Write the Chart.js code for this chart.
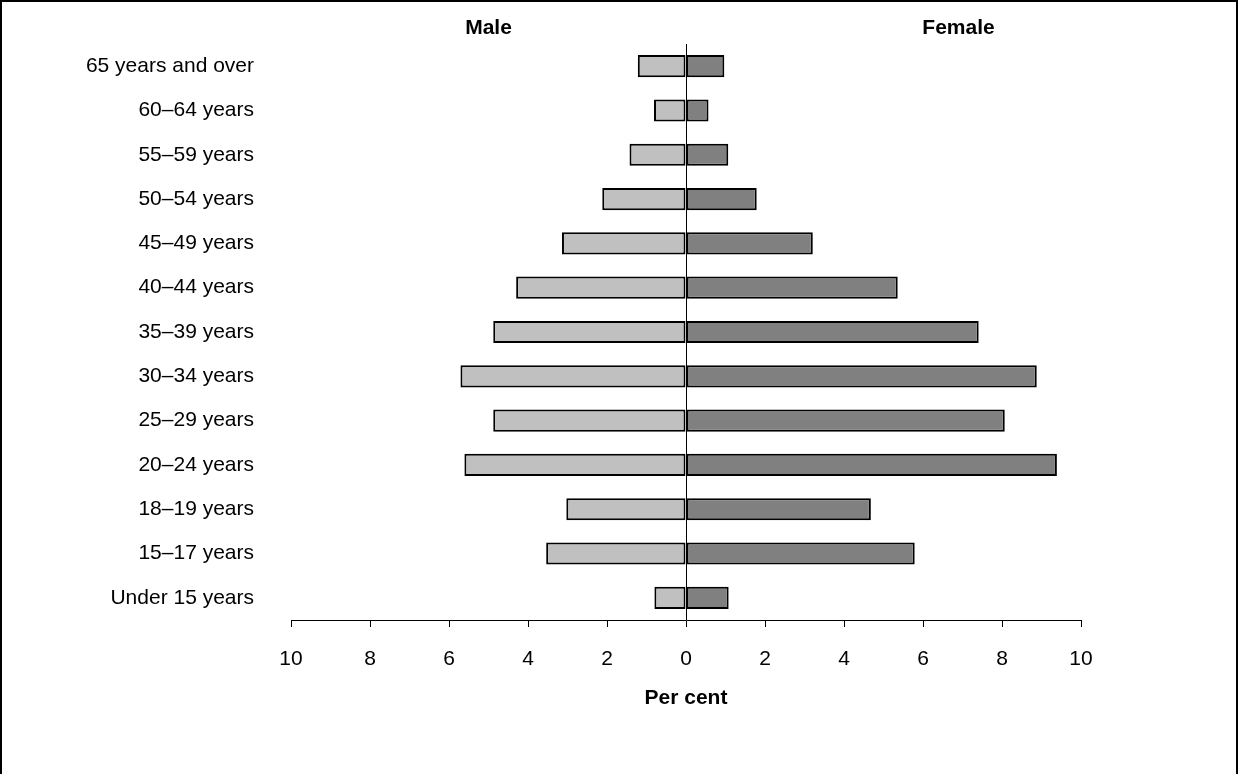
<!DOCTYPE html>
<html>
<head>
<meta charset="utf-8">
<script src="https://cdn.jsdelivr.net/npm/chart.js@4.4.1/dist/chart.umd.min.js"></script>
<style>
  html, body { margin: 0; padding: 0; background: #fff; }
  #wrap { width: 1238px; height: 774px; position: relative; }
</style>
</head>
<body>
<div id="wrap"><canvas id="c" width="1238" height="774"></canvas></div>
<script>
const categories = ["65 years and over", "60–64 years", "55–59 years", "50–54 years", "45–49 years", "40–44 years", "35–39 years", "30–34 years", "25–29 years", "20–24 years", "18–19 years", "15–17 years", "Under 15 years"];
const maleValues = [1.22, 0.81, 1.43, 2.12, 3.14, 4.30, 4.88, 5.71, 4.88, 5.61, 3.03, 3.54, 0.80];
const femaleValues = [0.97, 0.57, 1.07, 1.79, 3.21, 5.36, 7.41, 8.88, 8.07, 9.39, 4.68, 5.79, 1.08];
const tickValues = [-10, -8, -6, -4, -2, 0, 2, 4, 6, 8, 10];
const seriesNames = ["Male", "Female"];
const axisTitle = "Per cent";

const FONT = "'Liberation Sans', Arial, Helvetica, sans-serif";

const framePlugin = {
  id: 'frame',
  afterDraw(chart) {
    const ctx = chart.ctx;
    const xs = chart.scales.x;
    ctx.save();
    ctx.fillStyle = '#000';
    ctx.fillRect(0, 0, 2, 774);
    ctx.fillRect(1236, 0, 2, 774);
    ctx.fillRect(0, 0, 1238, 2);
    ctx.font = "bold 21px " + FONT;
    ctx.textAlign = 'center';
    ctx.textBaseline = 'middle';
    ctx.fillText(seriesNames[0], xs.getPixelForValue(-5), 28);
    ctx.fillText(seriesNames[1], xs.getPixelForValue(6.9), 28);
    ctx.restore();
  }
};

new Chart(document.getElementById('c'), {
  type: 'bar',
  data: {
    labels: categories,
    datasets: [
      { label: seriesNames[0], data: maleValues.map(v => -v), backgroundColor: '#c0c0c0', borderColor: '#000', borderWidth: 2, borderSkipped: false, categoryPercentage: 1, barPercentage: 0.5 },
      { label: seriesNames[1], data: femaleValues, backgroundColor: '#808080', borderColor: '#000', borderWidth: 2, borderSkipped: false, categoryPercentage: 1, barPercentage: 0.5 }
    ]
  },
  options: {
    indexAxis: 'y',
    responsive: false,
    animation: false,
    devicePixelRatio: 1,
    layout: { padding: { top: 44, right: 157, bottom: 63, left: 0 } },
    plugins: { legend: { display: false }, tooltip: { enabled: false } },
    scales: {
      x: {
        stacked: true,
        min: -10, max: 10,
        afterBuildTicks(scale) { scale.ticks = tickValues.map(v => ({ value: v })); },
        afterFit(scale) { scale.height = 91; },
        ticks: {
          color: '#000',
          font: { family: FONT, size: 21 },
          padding: 20,
          maxRotation: 0,
          callback: v => String(Math.abs(v))
        },
        grid: {
          color: ctx => (ctx.tick && ctx.tick.value === 0) ? '#000' : 'rgba(0,0,0,0)',
          tickColor: '#000',
          tickLength: 7,
          lineWidth: 1
        },
        border: { display: true, color: '#000', width: 1 },
        title: { display: true, text: axisTitle, color: '#000', font: { family: FONT, size: 21, weight: 'bold' }, padding: 0 }
      },
      y: {
        stacked: true,
        afterFit(scale) { scale.width = 291; },
        ticks: { color: '#000', font: { family: FONT, size: 21 }, padding: 5 },
        grid: { display: true, drawOnChartArea: false, drawTicks: true, tickLength: 32, color: 'rgba(0,0,0,0)', tickColor: 'rgba(0,0,0,0)' },
        border: { display: false }
      }
    }
  },
  plugins: [framePlugin]
});
</script>
</body>
</html>
